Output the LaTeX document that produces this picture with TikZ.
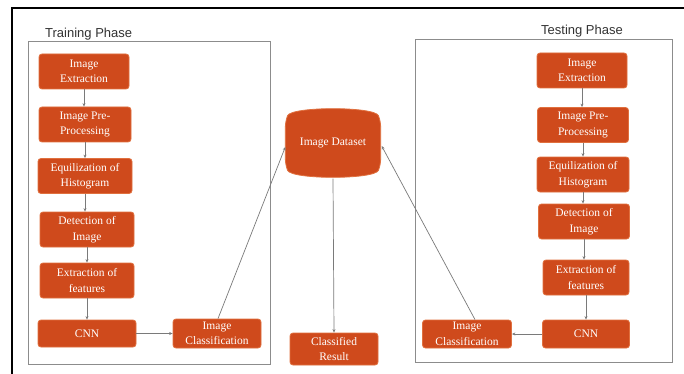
\documentclass[tikz,border=0pt]{standalone}
\usepackage{fontspec}
\setmainfont{Liberation Serif}
\setsansfont{Liberation Sans}
\usetikzlibrary{arrows.meta,calc}

\definecolor{procfill}{HTML}{CF4A1C}
\definecolor{procedge}{HTML}{E0703E}
\definecolor{linkgray}{HTML}{7A7A7A}
\definecolor{framegray}{HTML}{8C8C8C}

\tikzset{
  proc/.style={draw=procedge, line width=0.8pt, fill=procfill, rounded corners=3pt,
    text=white, font=\fontsize{11.5}{15.5}\selectfont, align=center,
    minimum width=94pt, minimum height=35pt, inner sep=0pt},
  flow/.style={draw=linkgray, line width=0.7pt, -{Stealth[length=3.5pt,width=3pt]}},
  phase/.style={draw=framegray, line width=0.9pt},
  phasetitle/.style={font=\sffamily\fontsize{13}{15}\selectfont, text=black!80, inner sep=0pt}
}

\begin{document}
\begin{tikzpicture}[x=1pt,y=-1pt]
  \useasboundingbox (0,0) rectangle (684,374);
  \fill[white] (0,0) rectangle (684,374);

  % outer frame (top and left edges)
  \draw[black, line width=2pt] (12,374) -- (12,8) -- (684,8);

  % phase frames
  \draw[phase] (28,41) rectangle (270,364);
  \draw[phase] (415,39) rectangle (672,362);
  \node[phasetitle, anchor=base west] (trainlbl) at (45,38) {Training Phase};
  \node[phasetitle, anchor=base] (testlbl) at (582,35) {Testing Phase};

  % training column
  \node[proc, minimum width=90pt] (tE) at (84,71.5) {Image\\Extraction};
  \node[proc, minimum width=92pt] (tP) at (85,124.5) {Image Pre-\\Processing};
  \node[proc] (tH) at (85,176) {Equilization of\\Histogram};
  \node[proc] (tD) at (87,229.5) {Detection of\\Image};
  \node[proc] (tF) at (87,280.5) {Extraction of\\features};
  \node[proc, minimum width=98pt, minimum height=27pt] (tC) at (87,333.5) {CNN};
  \node[proc, minimum width=88pt, minimum height=29pt] (tI) at (217,333.5) {Image\\Classification};

  % testing column
  \node[proc, minimum width=90pt] (sE) at (582,70.5) {Image\\Extraction};
  \node[proc, minimum width=91pt] (sP) at (583,125) {Image Pre-\\Processing};
  \node[proc, minimum width=92pt] (sH) at (583,174.5) {Equilization of\\Histogram};
  \node[proc, minimum width=91pt] (sD) at (584,221.5) {Detection of\\Image};
  \node[proc, minimum width=86pt] (sF) at (586,277.5) {Extraction of\\features};
  \node[proc, minimum width=87pt, minimum height=28pt] (sC) at (586,334) {CNN};
  \node[proc, minimum width=89pt, minimum height=28pt] (sI) at (467,334) {Image\\Classification};

  % central store and result
  \node[minimum width=95pt, minimum height=71pt, inner sep=0pt] (ds) at (333,143) {};
  \fill[procfill, draw=procedge, line width=0.8pt, rounded corners=6pt]
    ($(ds.north west)+(0,14)$)
      .. controls ($(ds.north west)+(6,-1)$) and ($(ds.north east)+(-6,-1)$) .. ($(ds.north east)+(0,14)$)
      -- ($(ds.south east)+(0,-14)$)
      .. controls ($(ds.south east)+(-6,1)$) and ($(ds.south west)+(6,1)$) .. ($(ds.south west)+(0,-14)$)
      -- cycle;
  \node[text=white, font=\fontsize{11.5}{14}\selectfont] (dslbl) at (ds.center) {Image Dataset};
  \node[proc, minimum width=88pt, minimum height=32pt] (res) at (334,349) {Classified\\Result};

  % training flow
  \draw[flow] (tE.south) -- (tE.south |- tP.north);
  \draw[flow] (tP.south) -- (tP.south |- tH.north);
  \draw[flow] (tH.south) -- (tH.south |- tD.north);
  \draw[flow] (tD.south) -- (tD.south |- tF.north);
  \draw[flow] (tF.south) -- (tF.south |- tC.north);
  \draw[flow] (tC.east) -- (tI.west);
  \draw[flow] ($(tI.north)+(1,0)$) -- ($(ds.west)+(0,4)$);

  % testing flow
  \draw[flow] (sE.south) -- (sE.south |- sP.north);
  \draw[flow] (sP.south) -- (sP.south |- sH.north);
  \draw[flow] (sH.south) -- (sH.south |- sD.north);
  \draw[flow] (sD.south) -- (sD.south |- sF.north);
  \draw[flow] (sF.south) -- (sF.south |- sC.north);
  \draw[flow] (sC.west) -- (sI.west -| sI.east);
  \draw[flow] ($(sI.north)+(8,0)$) -- ($(ds.east)+(1,3)$);

  % result
  \draw[flow] (ds.south) -- (res.north);
\end{tikzpicture}
\end{document}
